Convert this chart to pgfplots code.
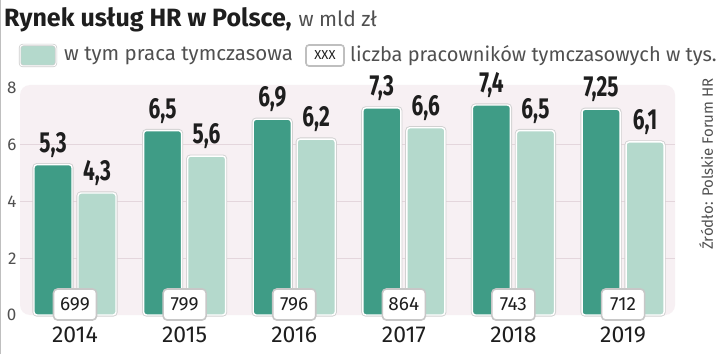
\documentclass[border=0pt]{standalone}
\usepackage{fontspec}
\setmainfont{Fira Sans}
\newfontfamily\cbf{Fira Sans}[FakeStretch=0.72]
\usepackage{pgfplots}
\usepackage{pgfplotstable}
\pgfplotsset{compat=1.18}
\definecolor{darkg}{RGB}{63,156,134}
\definecolor{lightg}{RGB}{180,217,204}
\definecolor{bgpink}{RGB}{247,240,243}
\definecolor{gridc}{RGB}{228,214,220}
\definecolor{txtgray}{RGB}{80,80,80}
\definecolor{txtdark}{RGB}{30,30,30}
\pgfplotstableread{
x dark light dl ll cnt by
0 5.3 4.3 5,3 4,3 699 0.37
1 6.5 5.6 6,5 5,6 799 0.37
2 6.9 6.2 6,9 6,2 796 0.37
3 7.3 6.6 7,3 6,6 864 0.37
4 7.4 6.5 7,4 6,5 743 0.37
5 7.25 6.1 7,25 6,1 712 0.37
}\datatable
\begin{document}
\begin{tikzpicture}
\useasboundingbox (0pt,0pt) rectangle (720pt,354pt);
\fill[white] (0pt,0pt) rectangle (720pt,354pt);
\draw[black!25, line width=1.2pt] (0.6pt,0pt) -- (0.6pt,354pt);
% title
\node[anchor=base west, inner sep=0] at (4pt,327pt) {{\bfseries\fontsize{25}{28}\selectfont\color{txtdark}Rynek usług HR w Polsce,}\hspace{7pt}{\fontsize{21}{26}\selectfont\color{txtgray}w mld zł}};
% legend
\draw[black!20, line width=2.4pt, rounded corners=3pt, fill=lightg] (20pt,288pt) rectangle (56pt,309pt);
\draw[white, line width=1pt, rounded corners=3pt] (20pt,288pt) rectangle (56pt,309pt);
\node[anchor=west, inner sep=0] at (64pt,298pt) {\fontsize{20.5}{24}\selectfont\color{txtgray}w tym praca tymczasowa};
\draw[black!25, line width=1.6pt, rounded corners=3pt, fill=white] (306pt,288pt) rectangle (344pt,309pt);
\node[inner sep=0] at (325pt,298.5pt) {\fontsize{13}{15}\selectfont\color{txtdark}XXX};
\node[anchor=west, inner sep=0] at (350pt,298pt) {\fontsize{20}{24}\selectfont\color{txtgray}liczba pracowników tymczasowych w tys.};
% source
\node[rotate=90, inner sep=0] at (706pt,190pt) {\fontsize{15}{18}\selectfont\color{txtgray}Źródło: Polskie Forum HR};
% background
\fill[bgpink, rounded corners=10pt] (20pt,39pt) rectangle (675pt,269pt);
\begin{axis}[
  at={(20pt,39pt)}, anchor=south west,
  width=655pt, height=227pt, scale only axis,
  xmin=-0.502, xmax=5.474, ymin=0, ymax=8,
  axis line style={draw=none},
  major tick length=0pt,
  ytick={0,2,4,6,8},
  extra y ticks={2,4,6},
  extra y tick labels={},
  extra y tick style={grid=major, major grid style={gridc, line width=1pt}},
  xtick=data,
  xticklabels={2014,2015,2016,2017,2018,2019},
  /pgf/number format/assume math mode=true,
  yticklabel style={font=\fontsize{17}{20}\selectfont, text=txtgray},
  xticklabel style={font=\fontsize{23}{26}\selectfont, text=txtdark, yshift=-8pt},
  clip=false,
]
\addplot[ybar, bar width=38pt, bar shift=-22pt, fill=darkg, draw=white, line width=1.4pt,
  rounded corners=3pt, preaction={draw=black!18, line width=3.2pt}]
  table[x=x, y=dark] {\datatable};
\addplot[ybar, bar width=38pt, bar shift=22pt, fill=lightg, draw=white, line width=1.4pt,
  rounded corners=3pt, preaction={draw=black!18, line width=3.2pt}]
  table[x=x, y=light] {\datatable};
\addplot[only marks, mark=none, nodes near coords, point meta=explicit symbolic,
  every node near coord/.style={font=\cbf\bfseries\fontsize{29}{32}\selectfont, text=txtdark, anchor=south, xshift=-22pt, yshift=5pt, inner sep=2pt}]
  table[x=x, y=dark, meta=dl] {\datatable};
\addplot[only marks, mark=none, nodes near coords, point meta=explicit symbolic,
  every node near coord/.style={font=\cbf\bfseries\fontsize{29}{32}\selectfont, text=txtdark, anchor=south, xshift=22pt, yshift=5pt, inner sep=2pt}]
  table[x=x, y=light, meta=ll] {\datatable};
\addplot[only marks, mark=none, nodes near coords, point meta=explicit symbolic,
  every node near coord/.style={anchor=center, draw=black!22, line width=1.6pt, fill=white, rounded corners=4pt,
    minimum width=43pt, minimum height=31pt, inner sep=0pt, text=txtdark, font=\fontsize{19}{22}\selectfont}]
  table[x=x, y=by, meta=cnt] {\datatable};
\end{axis}
\end{tikzpicture}
\end{document}
